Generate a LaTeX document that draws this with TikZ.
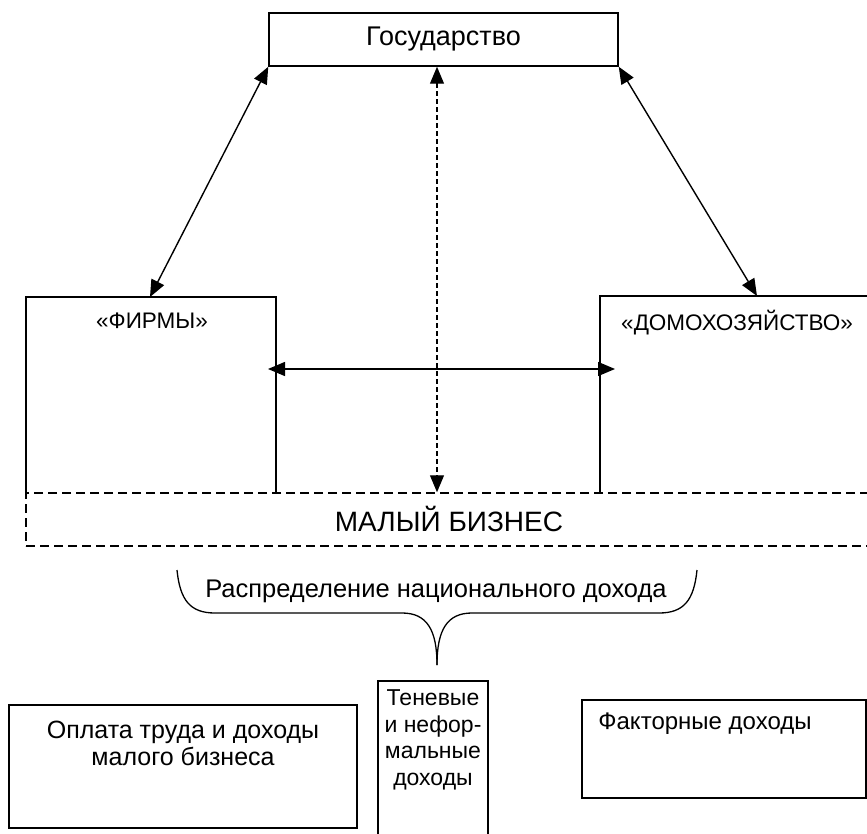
\documentclass[tikz,border=0pt]{standalone}
\usepackage{fontspec}
\setmainfont{Liberation Sans}
\usetikzlibrary{arrows.meta,calc}
\begin{document}
\begin{tikzpicture}[x=1pt,y=-1pt,
  boxline/.style={line width=1.5pt},
  conn/.style={line width=1.4pt,{Triangle[length=17pt,width=14pt]}-{Triangle[length=17pt,width=14pt]}},
  lbl/.style={inner sep=0pt,font=\fontsize{25}{27}\selectfont,align=center},
  area/.style={inner sep=0pt,draw=none}]
\useasboundingbox (0,0) rectangle (867,834);
% Gosudarstvo
\node[boxline,draw,minimum width=349pt,minimum height=53pt,inner sep=0pt,font=\fontsize{27}{30}\selectfont] (gos) at (443.5,39.5) {Государство};
% firms and households (open-bottom boxes)
\node[area,minimum width=250pt,minimum height=196pt] (firm) at (151,395) {};
\node[area,minimum width=270pt,minimum height=197pt] (dom) at (735,394.5) {};
\draw[boxline] (firm.south west) -- (firm.north west) -- (firm.north east) -- (firm.south east);
\draw[boxline] (dom.south west) -- (dom.north west) -- (dom.north east);
\node[lbl,font=\fontsize{22.5}{26}\selectfont] (firmt) at (152,321) {«ФИРМЫ»};
\node[lbl,font=\fontsize{22.5}{26}\selectfont] (domt) at (737,323) {«ДОМОХОЗЯЙСТВО»};
% small business dashed box
\node[draw,line width=1.5pt,dash pattern=on 9pt off 5pt,minimum width=850pt,minimum height=53pt,inner sep=0pt] (mb) at (451,519.5) {};
\node[lbl,font=\fontsize{28}{30}\selectfont] (mbt) at (449,519) {МАЛЫЙ БИЗНЕС};
% connectors
\coordinate (fa) at (150,297);
\coordinate (da) at (757,296);
\coordinate (hl) at (268,369);
\coordinate (hr) at (615,369);
\draw[conn] (gos.south west) -- (fa);
\draw[conn] (gos.south east) -- (da);
\draw[conn] (hl) -- (hr);
\draw[conn,line width=1.2pt,dash pattern=on 5pt off 3pt] (gos.south -| 437,0) -- (mb.north -| 437,0);
% brace
\node[lbl,font=\fontsize{25.5}{28}\selectfont] (dist) at (436,591) {Распределение национального дохода};
\coordinate (tip) at (437,665);
\draw[line width=1.3pt] (177,570) .. controls (180,600) and (190,613) .. (215,613) -- (402,613) .. controls (427,613) and (437,630) .. (tip);
\draw[line width=1.3pt] (697,570) .. controls (694,600) and (684,613) .. (659,613) -- (472,613) .. controls (447,613) and (437,630) .. (tip);
% bottom boxes
\node[draw,boxline,minimum width=348pt,minimum height=123pt,inner sep=0pt] (wage) at (183,766.5) {};
\node[lbl] (waget) at (183,743.5) {Оплата труда и доходы\\малого бизнеса};
\node[draw,boxline,minimum width=110pt,minimum height=154pt,inner sep=0pt] (shadow) at (433,758) {};
\node[lbl,font=\fontsize{23}{26.5}\selectfont] (shadowt) at (433,740) {Теневые\\и нефор-\\мальные\\доходы};
\node[draw,boxline,minimum width=284pt,minimum height=98pt,inner sep=0pt] (fact) at (724,749) {};
\node[lbl,font=\fontsize{24}{27}\selectfont] (factt) at (705,724) {Факторные доходы};
\end{tikzpicture}
\end{document}
